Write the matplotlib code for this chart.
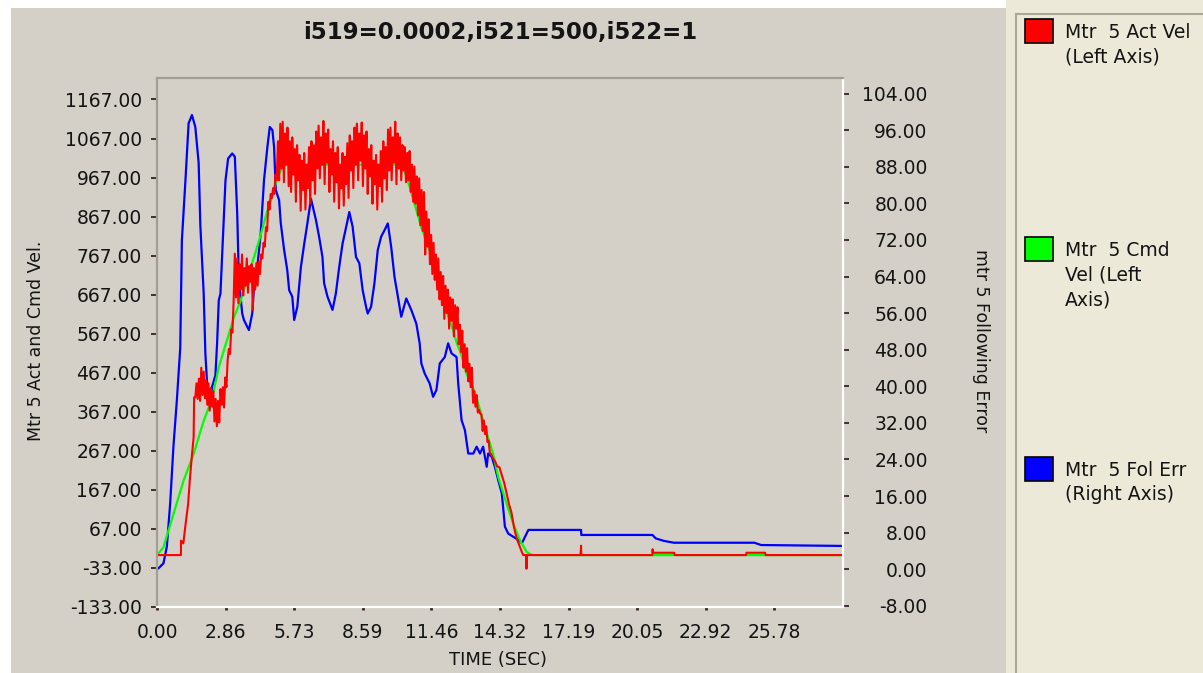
import matplotlib
matplotlib.use("Agg")
import matplotlib.pyplot as plt
from matplotlib.patches import Rectangle
from matplotlib.lines import Line2D
import numpy as np

# ---- data -------------------------------------------------------------
# commanded velocity (left axis)
cmd_t = [0.0, 0.06, 0.27, 0.48, 0.69, 0.9, 1.11, 1.32, 1.53, 1.74, 1.95, 2.16,
         2.37, 2.58, 2.79, 3.0, 3.21, 3.49, 3.8, 4.26, 4.6, 5.03, 5.25, 5.45,
         10.1, 10.3, 10.48, 11.04, 11.32, 11.6, 11.81, 12.37, 12.51, 12.72,
         12.93, 13.28, 13.7, 14.04, 14.25, 14.6, 14.88, 15.16, 15.44, 15.6,
         15.7, 28.65]
cmd_vel = [0, 4, 20, 63, 106, 148, 191, 225, 259, 302, 344, 378,
           421, 481, 524, 566, 609, 651, 713, 805, 880, 967, 995, 1000,
           1000, 990, 958, 839, 792, 741, 677, 575, 545, 511,
           464, 417, 327, 259, 200, 131, 80, 38, 8, 2,
           0, 0]

# actual velocity (left axis): start of move, logged samples, settle
act_head_t = [0.0, 1.0, 1.0, 1.1, 1.18, 1.3, 1.37, 1.45, 1.53, 1.55]
act_head = [0, 0, 37, 30, 72, 131, 191, 250, 302, 404]

act_sample_t0 = 1.6
act_sample_dt = 0.05
act_sampled = [
    404, 440, 400, 452, 395, 480, 410, 470, 402, 448, 385, 440, 370, 428, 380, 420, 342, 400, 330, 395,
    340, 425, 385, 430, 378, 455, 430, 500, 528, 515, 578, 570, 650, 772, 660, 760, 645, 745, 680, 770,
    665, 735, 690, 760, 672, 740, 700, 745, 628, 735, 680, 748, 690, 752, 720, 770, 760, 800, 790, 840,
    830, 905, 885, 925, 915, 940, 925, 975, 960, 1060, 960, 1105, 990, 1110, 955, 1080, 1000, 1095, 945, 1060,
    930, 1070, 975, 1040, 905, 1050, 960, 1025, 882, 1010, 935, 1030, 885, 1000, 940, 1045, 900, 1060, 960, 1050,
    925, 1085, 990, 1100, 965, 1070, 1000, 1112, 950, 1080, 1005, 1090, 930, 1040, 975, 1060, 905, 1030, 955, 1045,
    888, 1000, 940, 1030, 895, 1020, 950, 1055, 915, 1075, 985, 1060, 940, 1095, 1000, 1105, 960, 1080, 1010, 1108,
    945, 1075, 990, 1085, 925, 1040, 970, 1050, 900, 1010, 950, 1025, 885, 1000, 945, 1035, 905, 1060, 965, 1045,
    935, 1090, 985, 1095, 960, 1070, 1005, 1110, 950, 1080, 990, 1070, 960, 1050, 985, 1045, 955, 1030, 960, 1035,
    930, 1000, 905, 995, 900, 970, 870, 965, 845, 935, 830, 930, 770, 880, 790, 860, 745, 820, 720, 800,
    705, 770, 680, 760, 655, 725, 640, 715, 605, 690, 620, 680, 580, 660, 600, 655, 560, 640, 580, 635,
    540, 590, 520, 575, 480, 540, 470, 530, 445, 490, 430, 480, 390, 420, 380, 410, 365, 372, 362, 360,
    318, 345, 310, 330, 290, 293, 262, 259, 252, 246, 242, 236, 228, 226, 225, 215, 205, 195, 185, 172,
    160, 145, 130, 120, 110, 92, 75, 60, 48, 38, 30, 22, 14, 6, 0]

act_tail_t = [15.42, 15.43, 15.45, 17.68, 17.7, 17.71, 17.72, 20.69, 20.7,
              20.71, 21.6, 21.62, 24.6, 24.62, 25.4, 25.42, 28.65]
act_tail = [0, -35, 0, 0, 10, 24, 0, 0, 15,
            6, 6, 0, 0, 6, 6, 0, 0]

# following error (right axis)
fol_t = [0.0, 0.06, 0.27, 0.41, 0.55, 0.69, 0.83, 0.97, 1.04, 1.18, 1.32,
         1.46, 1.6, 1.74, 1.81, 1.95, 2.02, 2.09, 2.2, 2.3, 2.44, 2.51, 2.58,
         2.65, 2.86, 2.97, 3.14, 3.25, 3.35, 3.42, 3.56, 3.63, 3.77, 3.84,
         3.98, 4.05, 4.19, 4.33, 4.47, 4.61, 4.71, 4.82, 4.89, 4.96, 5.1,
         5.17, 5.31, 5.44, 5.52, 5.65, 5.73, 5.86, 6.01, 6.15, 6.28, 6.43,
         6.64, 6.77, 6.91, 6.98, 7.12, 7.33, 7.47, 7.61, 7.75, 7.96, 8.03,
         8.17, 8.31, 8.45, 8.59, 8.73, 8.8, 8.94, 9.08, 9.22, 9.36, 9.5,
         9.64, 9.78, 9.92, 10.06, 10.2, 10.41, 10.62, 10.83, 10.97, 11.04,
         11.18, 11.39, 11.53, 11.67, 11.81, 12.02, 12.16, 12.3, 12.51, 12.58,
         12.72, 12.86, 13.0, 13.21, 13.35, 13.49, 13.62, 13.77, 13.83, 13.98,
         14.11, 14.25, 14.4, 14.53, 14.67, 14.88, 15.09, 15.24, 15.37, 15.51,
         17.71, 17.72, 20.69, 20.83, 21.17, 21.59, 24.95, 25.23, 28.65]
fol_err = [0.0, 0.2, 1.3, 4.9, 14.4, 27.1, 37.0, 48.3, 72.0, 84.3, 97.5,
           99.3, 96.7, 88.8, 75.2, 60.3, 47.2, 40.8, 35.5, 39.9, 42.4, 49.4, 58.8,
           60.3, 85.0, 89.8, 90.9, 90.2, 77.8, 63.2, 55.9, 54.5, 53.0, 52.3,
           56.0, 61.7, 66.1, 73.4, 85.1, 92.3, 96.7, 96.0, 92.3, 82.9, 80.7,
           75.6, 69.8, 65.4, 61.0, 59.6, 54.5, 57.4, 66.1, 71.2, 75.6, 81.0,
           76.3, 72.7, 68.3, 62.5, 59.6, 56.7, 60.3, 66.1, 71.2, 76.3, 78.1,
           74.9, 68.3, 66.9, 61.0, 57.4, 55.9, 57.4, 62.5, 69.8, 72.7, 74.1,
           75.6, 70.5, 63.9, 59.6, 55.2, 59.2, 56.7, 53.7, 49.4, 45.0,
           42.8, 40.6, 37.7, 39.2, 45.0, 46.4, 49.4, 47.2, 46.4, 40.6,
           32.6, 30.4, 25.3, 25.3, 26.8, 25.3, 26.8, 22.4, 25.3, 24.6,
           22.4, 19.5, 16.6, 9.3, 7.8, 7.1, 6.4, 5.7, 7.1, 8.6,
           8.6, 7.5, 7.5, 6.75, 6.2, 5.8, 5.8, 5.3, 5.1]

time_ticks = [0.0, 2.865, 5.73, 8.595, 11.46, 14.325, 17.19, 20.055, 22.92, 25.785]
time_labels = ["0.00", "2.86", "5.73", "8.59", "11.46", "14.32", "17.19",
               "20.05", "22.92", "25.78"]
vel_ticks = [-133, -33, 67, 167, 267, 367, 467, 567, 667, 767, 867, 967, 1067, 1167]
err_ticks = [-8, 0, 8, 16, 24, 32, 40, 48, 56, 64, 72, 80, 88, 96, 104]

legend_entries = [
    ("#ff0000", ["Mtr  5 Act Vel", "(Left Axis)"]),
    ("#00ff00", ["Mtr  5 Cmd", "Vel (Left", "Axis)"]),
    ("#0000ff", ["Mtr  5 Fol Err", "(Right Axis)"]),
]

# ---- figure -----------------------------------------------------------
W, H = 1203, 673
GRAY = "#d4d0c8"
fig = plt.figure(figsize=(W / 100, H / 100), dpi=100)
fig.patch.set_facecolor("white")

fig.add_artist(Rectangle((11 / W, 0), (1006 - 11) / W, (H - 8) / H,
                         transform=fig.transFigure, facecolor=GRAY,
                         edgecolor="none", zorder=0))
fig.add_artist(Rectangle((1006 / W, 0), (W - 1006) / W, 1,
                         transform=fig.transFigure, facecolor="#ece9d8",
                         edgecolor="none", zorder=0))
fig.add_artist(Line2D([1016 / W, 1016 / W], [0, 1 - 14 / H], color="#aca899",
                      lw=1.5, transform=fig.transFigure))
fig.add_artist(Line2D([1016 / W, 1], [1 - 14 / H, 1 - 14 / H], color="#aca899",
                      lw=1.5, transform=fig.transFigure))

ax = fig.add_axes([157 / W, (H - 607) / H, 686 / W, 529 / H])
ax2 = ax.twinx()

act_sample_time = act_sample_t0 + act_sample_dt * np.arange(len(act_sampled))
act_t = np.concatenate([act_head_t, act_sample_time, act_tail_t])
act_vel = np.concatenate([act_head, act_sampled, act_tail])

ax2.plot(fol_t, fol_err, color="#0000ff", lw=1.6)
ax.plot(cmd_t, cmd_vel, color="#00ff00", lw=1.6)
ax.plot(act_t, act_vel, color="#ff0000", lw=1.5)

ax.set_zorder(ax2.get_zorder() + 1)
ax.patch.set_visible(False)
ax2.patch.set_visible(False)

ax.set_xlim(0, 28.65)
ax.set_ylim(-133, 1222)
ax2.set_ylim(-8.25, 107.4)

ax.set_xticks(time_ticks)
ax.set_xticklabels(time_labels)
ax.set_yticks(vel_ticks)
ax.set_yticklabels(["%.2f" % v for v in vel_ticks])
ax2.set_yticks(err_ticks)
ax2.set_yticklabels(["%.2f" % v for v in err_ticks])

tick_col = "#3a2020"
text_col = "#141414"
ax.tick_params(axis="y", direction="out", length=4, width=1.3, color=tick_col,
               pad=7, labelsize=13.5, labelcolor=text_col)
ax.tick_params(axis="x", direction="out", length=2.5, width=2, color=tick_col,
               pad=9, labelsize=13.5, labelcolor=text_col)
ax2.tick_params(axis="y", direction="out", length=4, width=1.3, color=tick_col,
                pad=57, labelsize=13.5, labelcolor=text_col)
for lbl in ax2.get_yticklabels():
    lbl.set_horizontalalignment("right")

for side in ("left", "top"):
    ax.spines[side].set_color("#a29e94")
    ax.spines[side].set_linewidth(1.6)
for side in ("right", "bottom"):
    ax.spines[side].set_color("white")
    ax.spines[side].set_linewidth(1.6)
for sp in ax2.spines.values():
    sp.set_visible(False)

fig.text(500 / W, 1 - 32 / H, "i519=0.0002,i521=500,i522=1", ha="center",
         va="center", fontsize=16.5, fontweight="bold", color=text_col)
fig.text(498 / W, 1 - 660 / H, "TIME (SEC)", ha="center", va="center",
         fontsize=13, color=text_col)
fig.text(36 / W, 1 - 341 / H, "Mtr 5 Act and Cmd Vel.", ha="center",
         va="center", rotation=90, fontsize=12.5, color=text_col)
fig.text(981 / W, 1 - 341 / H, "mtr 5 Following Error", ha="center",
         va="center", rotation=270, fontsize=12.5, color=text_col)

# legend panel
swatch_tops = [19, 237, 457]
for (col, lines), top in zip(legend_entries, swatch_tops):
    fig.add_artist(Rectangle((1025 / W, 1 - (top + 24) / H), 28 / W, 24 / H,
                             transform=fig.transFigure, facecolor=col,
                             edgecolor="black", lw=1.2))
    for k, line in enumerate(lines):
        fig.text(1065 / W, 1 - (top + 13 + 25 * k) / H, line, ha="left",
                 va="center", fontsize=13.5, color=text_col)

fig.savefig("out.png", dpi=100, facecolor=fig.get_facecolor())
